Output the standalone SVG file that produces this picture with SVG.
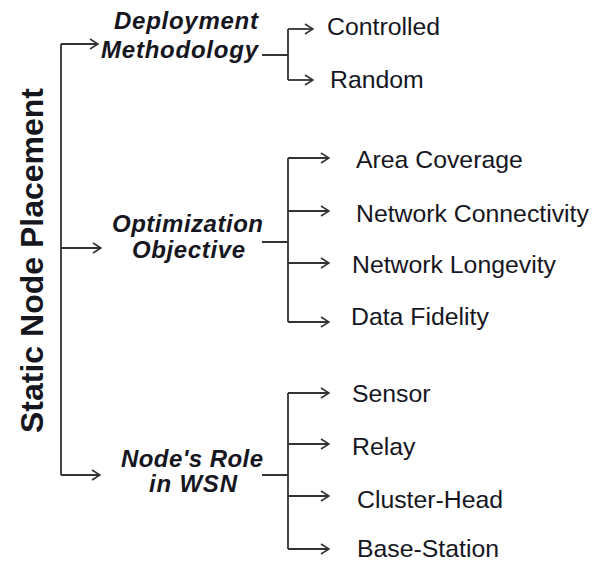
<svg xmlns="http://www.w3.org/2000/svg" width="596" height="563" viewBox="0 0 596 563">
  <style>
    .title { font-family: "Liberation Sans", Arial, sans-serif; font-size: 32px; font-weight: bold; fill: #16161f; }
    .cat { font-family: "Liberation Sans", Arial, sans-serif; font-size: 24px; font-weight: bold; font-style: italic; fill: #16161f; }
    .leaf { font-family: "Liberation Sans", Arial, sans-serif; font-size: 24.8px; fill: #16161f; }
    .wire { fill: none; stroke: #333; stroke-width: 1.8; }
    .arrow { fill: none; stroke: #333; stroke-width: 1.8; marker-end: url(#chevron); }
  </style>
  <defs>
    <marker id="chevron" markerUnits="userSpaceOnUse" viewBox="0 0 10 12" refX="9" refY="6" markerWidth="10" markerHeight="12" orient="auto">
      <path d="M1,1 L9,6 L1,11" fill="none" stroke="#333" stroke-width="1.6"/>
    </marker>
  </defs>

  <rect width="596" height="563" fill="#fff"/>

  <!-- connectors -->
  <g id="connectors">
    <!-- trunk from the root title -->
    <path class="wire" d="M61,44 V475"/>
    <path class="arrow" d="M61,44 H98"/>
    <path class="arrow" d="M61,248 H101"/>
    <path class="arrow" d="M61,475 H100"/>

    <!-- deployment methodology -->
    <path class="wire" d="M262,55 H288 M288,29 V80"/>
    <path class="arrow" d="M288,29 H313"/>
    <path class="arrow" d="M288,80 H313"/>

    <!-- optimization objective -->
    <path class="wire" d="M262,242 H288 M288,158 V322"/>
    <path class="arrow" d="M288,158 H329"/>
    <path class="arrow" d="M288,211 H329"/>
    <path class="arrow" d="M288,263 H329"/>
    <path class="arrow" d="M288,322 H329"/>

    <!-- node's role -->
    <path class="wire" d="M262,475 H288 M288,393 V549"/>
    <path class="arrow" d="M288,393 H329"/>
    <path class="arrow" d="M288,444 H329"/>
    <path class="arrow" d="M288,496 H329"/>
    <path class="arrow" d="M288,549 H329"/>
  </g>

  <!-- root -->
  <g id="root">
    <text class="title" transform="translate(43,260.5) rotate(-90)" text-anchor="middle">Static Node Placement</text>
  </g>

  <!-- categories -->
  <g id="deployment">
    <text class="cat" x="114" y="29" textLength="144" lengthAdjust="spacing">Deployment</text>
    <text class="cat" x="101" y="58" textLength="157" lengthAdjust="spacing">Methodology</text>
  </g>
  <g id="optimization">
    <text class="cat" x="112" y="232" textLength="151" lengthAdjust="spacing">Optimization</text>
    <text class="cat" x="132" y="258" textLength="113" lengthAdjust="spacing">Objective</text>
  </g>
  <g id="role">
    <text class="cat" x="121" y="467" textLength="142" lengthAdjust="spacing">Node's Role</text>
    <text class="cat" x="149" y="492" textLength="88" lengthAdjust="spacing">in WSN</text>
  </g>

  <!-- leaves -->
  <g id="controlled"><text class="leaf" x="327" y="35">Controlled</text></g>
  <g id="random"><text class="leaf" x="330" y="88">Random</text></g>

  <g id="area-coverage"><text class="leaf" x="356" y="168">Area Coverage</text></g>
  <g id="network-connectivity"><text class="leaf" x="356" y="222">Network Connectivity</text></g>
  <g id="network-longevity"><text class="leaf" x="352" y="273">Network Longevity</text></g>
  <g id="data-fidelity"><text class="leaf" x="351" y="325">Data Fidelity</text></g>

  <g id="sensor"><text class="leaf" x="352" y="402">Sensor</text></g>
  <g id="relay"><text class="leaf" x="352" y="455">Relay</text></g>
  <g id="cluster-head"><text class="leaf" x="357" y="508">Cluster-Head</text></g>
  <g id="base-station"><text class="leaf" x="357" y="557">Base-Station</text></g>
</svg>
